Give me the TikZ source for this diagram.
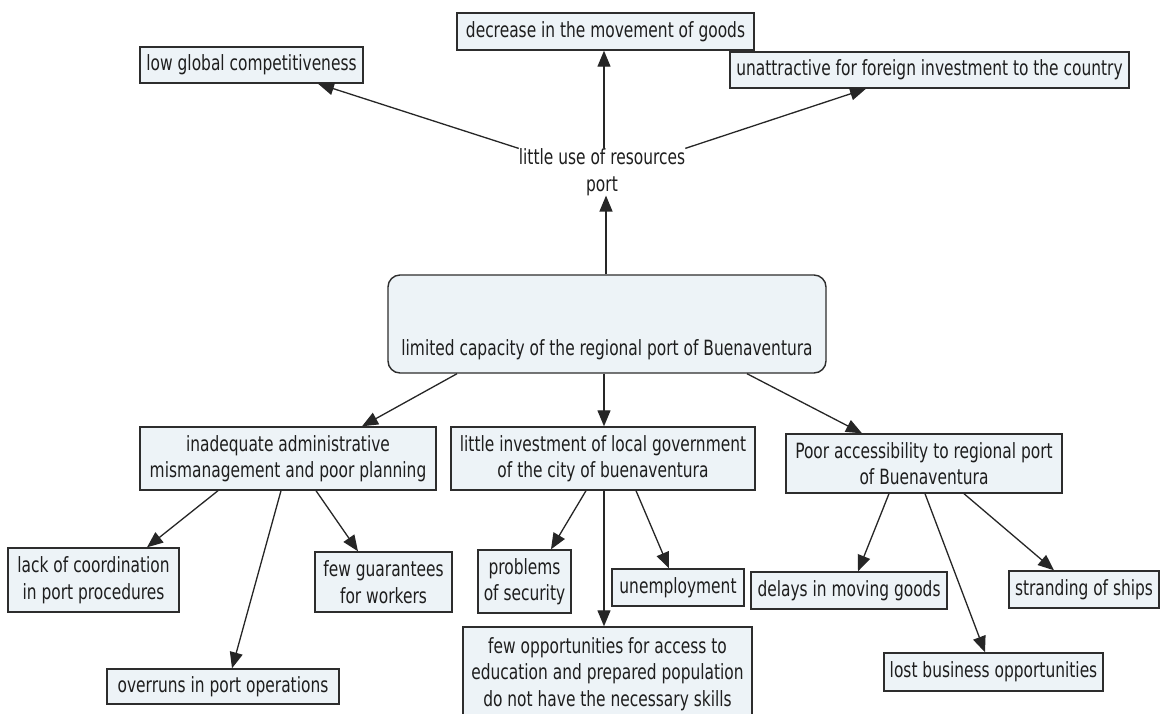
\documentclass[tikz,border=0pt]{standalone}
\usepackage{fontspec}
\setmainfont{DejaVu Sans}[FakeStretch=0.735]
\usetikzlibrary{arrows.meta,calc}
\definecolor{boxfill}{RGB}{237,243,247}
\definecolor{boxline}{RGB}{45,45,45}
\definecolor{txtcol}{RGB}{30,30,30}
\begin{document}
\begin{tikzpicture}[x=1pt,y=-1pt,
  txt/.style={inner sep=0pt, align=center, text=txtcol, font=\fontsize{21}{26.5}\selectfont},
  concept/.style={txt, draw=boxline, line width=1.4pt, fill=boxfill},
  link/.style={draw=black!85, line width=1.3pt, -{Triangle[length=16pt,width=13pt]}}
]
\useasboundingbox (0,0) rectangle (1165,713);
\fill[white] (0,0) rectangle (1165,713);
\clip (0,0) rectangle (1165,713);

% top level
\node[concept, minimum width=223pt, minimum height=36pt] (lowg) at (251.5,65) {low global competitiveness};
\node[concept, minimum width=297pt, minimum height=37pt] (decr) at (605.5,31.5) {decrease in the movement of goods};
\node[concept, minimum width=399pt, minimum height=36pt] (unat) at (929.5,70) {unattractive for foreign investment to the country};
\node[txt] (little) at (602,172) {little use of resources\\port};

% central
\node[txt, draw=boxline, line width=1.4pt, fill=boxfill, rounded corners=12pt,
      minimum width=438pt, text height=80pt, text depth=18pt, anchor=base] (ctr) at (607,355)
      {limited capacity of the regional port of Buenaventura};

% second level
\node[concept, minimum width=296pt, minimum height=63pt] (inad) at (288,458.5) {inadequate administrative\\mismanagement and poor planning};
\node[concept, minimum width=304pt, minimum height=63pt] (linv) at (603,458.5) {little investment of local government\\of the city of buenaventura};
\node[concept, minimum width=276pt, minimum height=59pt] (poor) at (924,463.5) {Poor accessibility to regional port\\of Buenaventura};

% third level
\node[concept, minimum width=171pt, minimum height=64pt] (lack) at (93.5,580) {lack of coordination\\in port procedures};
\node[concept, minimum width=137pt, minimum height=60pt] (fewg) at (383.5,582) {few guarantees\\for workers};
\node[concept, minimum width=232pt, minimum height=35pt] (over) at (223,686.5) {overruns in port operations};
\node[concept, minimum width=93pt, minimum height=63pt] (prob) at (524.5,581.5) {problems\\of security};
\node[concept, minimum width=132pt, minimum height=37pt] (unem) at (678,587.5) {unemployment};
\node[concept, minimum width=289pt, minimum height=94pt] (fewo) at (607.5,674) {few opportunities for access to\\education and prepared population\\do not have the necessary skills};
\node[concept, minimum width=196pt, minimum height=37pt] (dela) at (849,590.5) {delays in moving goods};
\node[concept, minimum width=150pt, minimum height=37pt] (stra) at (1084,589.5) {stranding of ships};
\node[concept, minimum width=219pt, minimum height=38pt] (lost) at (993.5,672) {lost business opportunities};

% connectors
\draw[link] ([xshift=-1pt]ctr.north) -- ([xshift=-1pt]ctr.north |- little.south);
\draw[link] (little.north west) -- ([xshift=66.5pt]lowg.south);
\draw[link] ([xshift=2pt]little.north) -- ([xshift=2pt]little.north |- decr.south);
\draw[link] (little.north east) -- ([xshift=-63.5pt]unat.south);

\draw[link] ([xshift=-150pt]ctr.south) -- ([xshift=74pt]inad.north);
\draw[link] ([xshift=1pt]linv.north |- ctr.south) -- ([xshift=1pt]linv.north);
\draw[link] ([xshift=140pt]ctr.south) -- ([xshift=-62pt]poor.north);

\draw[link] ([xshift=-70pt]inad.south) -- ([xshift=53.5pt]lack.north);
\draw[link] ([xshift=-7pt]inad.south) -- ([xshift=9pt]over.north);
\draw[link] ([xshift=28pt]inad.south) -- ([xshift=-25.5pt]fewg.north);

\draw[link] ([xshift=-17pt]linv.south) -- ([xshift=26.5pt]prob.north);
\draw[link] ([xshift=1pt]linv.south) -- ([xshift=1pt]linv.south |- fewo.north);
\draw[link] ([xshift=33pt]linv.south) -- ([xshift=-9pt]unem.north);

\draw[link] ([xshift=-35pt]poor.south) -- ([xshift=9pt]dela.north);
\draw[link] ([xshift=1pt]poor.south) -- ([xshift=-8.5pt]lost.north);
\draw[link] ([xshift=40pt]poor.south) -- ([xshift=-30pt]stra.north);
\end{tikzpicture}
\end{document}
